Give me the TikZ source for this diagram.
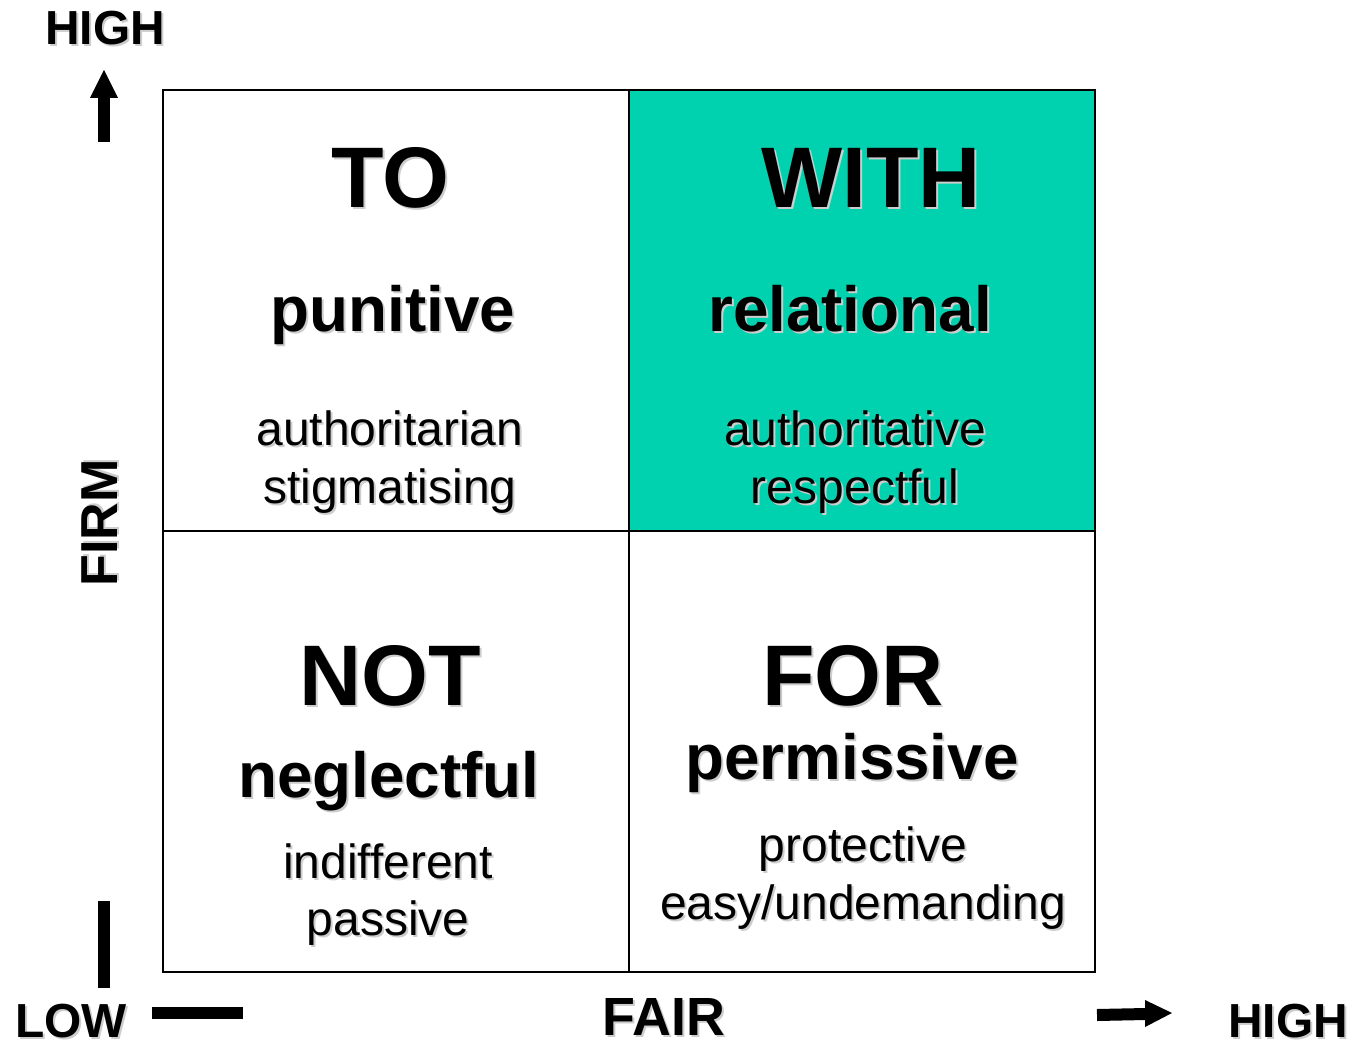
\documentclass[tikz,border=0pt]{standalone}
\usepackage{fontspec}
\setmainfont{Liberation Sans}
\definecolor{cellteal}{RGB}{0,209,174}
\definecolor{shadowgray}{RGB}{205,205,205}
\newcommand\stxt[6]{%
  \node[txt,text=shadowgray,font=#4,xshift=1pt,yshift=-1pt] at (#2,#3) {#6};
  \node[txt,font=#4,#5] (#1) at (#2,#3) {#6};}
\begin{document}
\begin{tikzpicture}[x=0.5pt,y=-0.5pt,
  txt/.style={anchor=base,inner sep=0pt,align=center},
  grid/.style={draw=black,line width=1.2pt},
  bar/.style={line width=6pt},
]
\useasboundingbox (0,0) rectangle (1358,1047);
\fill[white] (0,0) rectangle (1358,1047);
% cells
\fill[cellteal] (629,90) rectangle (1095,531);
\coordinate (tl) at (163,90);
\coordinate (br) at (1095,972);
\draw[grid] (tl) rectangle (br);
\coordinate (mt) at (629,90);
\coordinate (mb) at (629,972);
\coordinate (ml) at (163,531);
\coordinate (mr) at (1095,531);
\draw[grid] (mt) -- (mb);
\draw[grid] (ml) -- (mr);
% quadrant texts
\def\fbig{\bfseries\fontsize{43}{50}\selectfont}
\def\fmid{\bfseries\fontsize{31.9}{36}\selectfont}
\def\fsmall{\fontsize{24}{29}\selectfont}
\stxt{to}{390}{208}{\fbig}{}{TO}
\stxt{with}{871}{208}{\fbig}{}{WITH}
\stxt{pun}{393}{332}{\fmid}{}{punitive}
\stxt{rel}{850}{332}{\fmid}{}{relational}
\stxt{auth}{390}{445}{\fsmall}{}{authoritarian}
\stxt{stig}{390}{503}{\fsmall}{}{stigmatising}
\stxt{autv}{855}{445}{\fsmall}{}{authoritative}
\stxt{resp}{855}{503}{\fsmall}{}{respectful}
\stxt{not}{390}{705}{\fbig}{}{NOT}
\stxt{for}{853}{705}{\fbig}{}{FOR}
\stxt{negl}{389}{797}{\fmid}{}{neglectful}
\stxt{perm}{852}{779}{\fmid}{}{permissive}
\stxt{indi}{388}{878}{\fsmall}{}{indifferent}
\stxt{pass}{388}{935}{\fsmall}{}{passive}
\stxt{prot}{863}{861}{\fsmall}{}{protective}
\stxt{easy}{863}{919}{\fsmall}{}{easy/undemanding}
% axis labels
\def\fax{\bfseries\fontsize{23.9}{28}\selectfont}
\stxt{hightop}{105}{45}{\fax}{}{HIGH}
\stxt{low}{71}{1037}{\fax}{}{LOW}
\stxt{fair}{664}{1035}{\bfseries\fontsize{26.9}{31}\selectfont}{}{FAIR}
\stxt{highr}{1288}{1037}{\fax}{}{HIGH}
\node[txt,text=shadowgray,font=\bfseries\fontsize{26}{30}\selectfont,rotate=90,anchor=center,xshift=1pt,yshift=-1pt] at (100,523) {FIRM};
\node[txt,font=\bfseries\fontsize{26}{30}\selectfont,rotate=90,anchor=center] (firm) at (100,523) {FIRM};
% arrows and bars
\coordinate (ua1) at (104,142);
\coordinate (ua2) at (104,97);
\draw[bar] (ua1) -- (ua2);
\fill (90,98) -- (104,70) -- (118,98) -- cycle;
\coordinate (vb1) at (104,901);
\coordinate (vb2) at (104,988);
\draw[bar] (vb1) -- (vb2);
\coordinate (hb1) at (152,1013);
\coordinate (hb2) at (243,1013);
\draw[bar] (hb1) -- (hb2);
\coordinate (ra1) at (1097,1015);
\coordinate (ra2) at (1146,1014);
\draw[bar] (ra1) -- (ra2);
\fill (1145,1000) -- (1172,1013) -- (1145,1027) -- cycle;
\end{tikzpicture}
\end{document}
